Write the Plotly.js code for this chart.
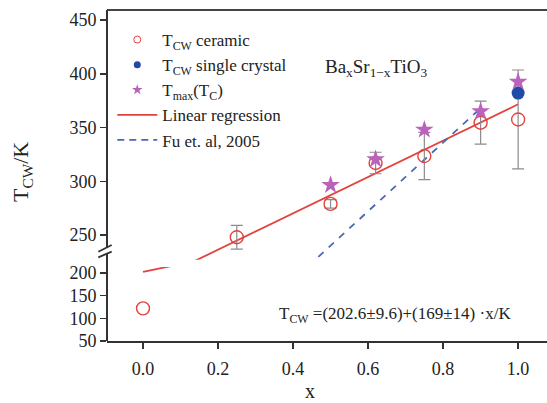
<!DOCTYPE html>
<html><head><meta charset="utf-8">
<script src="https://cdn.plot.ly/plotly-3.0.1.min.js"></script>
<style>body{margin:0;background:#fff}#chart{width:547px;height:403px}</style>
</head><body><div id="chart"></div>
<script>
// ---- data ----
const ceramicX = [0, 0.25, 0.5, 0.62, 0.75, 0.9, 1.0];
const ceramicY = [122, 248, 279, 317, 323.5, 354.5, 357.5];
const ceramicErr = [NaN, 11, 4, 10, 22, 20, 46];
const crystalX = [1.0];
const crystalY = [382];
const tmaxX = [0.5, 0.62, 0.75, 0.9, 1.0];
const tmaxY = [296.5, 320.5, 348, 365, 392.5];
const fitX = [0, 1.0];
const fitY = [202.6, 371.6];
const fuX = [0.44, 0.9];
const fuY = [221, 368];
const xTicks = [0, 0.2, 0.4, 0.6, 0.8, 1.0];
const xTickText = ['0.0', '0.2', '0.4', '0.6', '0.8', '1.0'];
const yLowTicks = [50, 100, 150, 200];
const yHighTicks = [250, 300, 350, 400, 450];

const FONT = 'Liberation Serif, Times New Roman, serif';
const RED = '#e4423c', STAR = '#bb62bd', BLUE = '#1f4aa8', DASH = '#4a68b5', GREY = '#8c8c8c';

const traces = [];
['y', 'y2'].forEach(ax => {
  traces.push({x: fitX, y: fitY, yaxis: ax, mode: 'lines', line: {color: RED, width: 1.8}, showlegend: false, hoverinfo: 'skip'});
  traces.push({x: fuX, y: fuY, yaxis: ax, mode: 'lines', line: {color: DASH, width: 1.8, dash: '7px,7px'}, showlegend: false, hoverinfo: 'skip'});
  traces.push({x: ceramicX, y: ceramicY, yaxis: ax, mode: 'markers',
    marker: {symbol: 'circle-open', size: 13, color: RED, line: {width: 1.4, color: RED}},
    error_y: {type: 'data', array: ceramicErr, visible: true, color: GREY, thickness: 1.2, width: 6},
    showlegend: false});
  traces.push({x: crystalX, y: crystalY, yaxis: ax, mode: 'markers', marker: {symbol: 'circle', size: 13, color: BLUE}, showlegend: false});
  traces.push({x: tmaxX, y: tmaxY, yaxis: ax, mode: 'markers', marker: {symbol: 'star', size: 14, color: STAR}, showlegend: false});
});
// legend entries
traces.push({x: [null], y: [null], mode: 'markers', name: 'T<sub>CW</sub> ceramic', marker: {symbol: 'circle-open', size: 7, color: RED, line: {width: 1, color: RED}}});
traces.push({x: [null], y: [null], mode: 'markers', name: 'T<sub>CW</sub> single crystal', marker: {symbol: 'circle', size: 7, color: BLUE}});
traces.push({x: [null], y: [null], mode: 'markers', name: 'T<sub>max</sub>(T<sub>C</sub>)', marker: {symbol: 'star', size: 8, color: STAR}});
traces.push({x: [null], y: [null], mode: 'lines', name: 'Linear regression', line: {color: RED, width: 1.8}});
traces.push({x: [null], y: [null], mode: 'lines', name: 'Fu et. al, 2005', line: {color: DASH, width: 1.8, dash: '7px,5px'}});

// pixel helpers (plot area: x 107..547, y 10..341)
const px = p => (p - 107) / 440;
const py = p => (341 - p) / 331;

const axisCommon = {
  showgrid: false, zeroline: false, showline: false, ticks: 'outside', ticklen: 6, tickwidth: 1.5,
  tickcolor: '#333', tickfont: {family: FONT, size: 18, color: '#222'}
};

const layout = {
  width: 547, height: 403,
  margin: {l: 107, r: 0, t: 10, b: 62},
  paper_bgcolor: '#fff', plot_bgcolor: 'rgba(0,0,0,0)',
  font: {family: FONT, color: '#222'},
  xaxis: Object.assign({}, axisCommon, {range: [-0.096, 1.077], tickvals: xTicks, ticktext: xTickText,
    showline: true, linecolor: '#333', linewidth: 2, anchor: 'y', ticklabelstandoff: 4}),
  yaxis: Object.assign({}, axisCommon, {domain: [0, py(267.1)], range: [50, 213], tickvals: yLowTicks}),
  yaxis2: Object.assign({}, axisCommon, {domain: [py(259.8), 1], range: [227, 459.3], tickvals: yHighTicks, anchor: 'x'}),
  legend: {x: 0.012, y: py(22), xanchor: 'left', yanchor: 'top', bgcolor: 'rgba(0,0,0,0)',
    font: {family: FONT, size: 17, color: '#222'}, itemwidth: 40, tracegroupgap: 0},
  shapes: [
    {type: 'line', xref: 'paper', yref: 'paper', x0: 0, x1: 1, y0: 1, y1: 1, line: {color: '#444', width: 2}},
    {type: 'line', xref: 'paper', yref: 'paper', x0: 0, x1: 0, y0: 0, y1: py(253.7), line: {color: '#333', width: 2}},
    {type: 'line', xref: 'paper', yref: 'paper', x0: 0, x1: 0, y0: py(247.3), y1: 1, line: {color: '#333', width: 2}},
    {type: 'line', xref: 'paper', yref: 'paper', x0: px(98.3), x1: px(111.7), y0: py(251.7), y1: py(245), line: {color: '#333', width: 1.8}},
    {type: 'line', xref: 'paper', yref: 'paper', x0: px(98.3), x1: px(111.7), y0: py(257.3), y1: py(251.7), line: {color: '#333', width: 1.8}}
  ],
  annotations: [
    {xref: 'paper', yref: 'paper', x: px(22), y: py(172), xanchor: 'center', yanchor: 'middle', text: 'T<sub>CW</sub>/K', textangle: -90, showarrow: false,
      font: {family: FONT, size: 22, color: '#222'}},
    {xref: 'paper', yref: 'paper', x: px(310), y: py(391), xanchor: 'center', yanchor: 'middle', text: 'x', showarrow: false,
      font: {family: FONT, size: 20, color: '#222'}},
    {xref: 'paper', yref: 'paper', x: px(376), y: py(68), xanchor: 'center', yanchor: 'middle', text: 'Ba<sub>x</sub>Sr<sub>1\u2212x</sub>TiO<sub>3</sub>', showarrow: false,
      font: {family: FONT, size: 19, color: '#222'}},
    {xref: 'paper', yref: 'paper', x: px(395), y: py(315), xanchor: 'center', yanchor: 'middle', text: 'T<sub>CW</sub> =(202.6\u00b19.6)+(169\u00b114) \u00b7x/K', showarrow: false,
      font: {family: FONT, size: 17, color: '#222'}}
  ]
};

Plotly.newPlot('chart', traces, layout, {displayModeBar: false, staticPlot: true});
</script></body></html>
